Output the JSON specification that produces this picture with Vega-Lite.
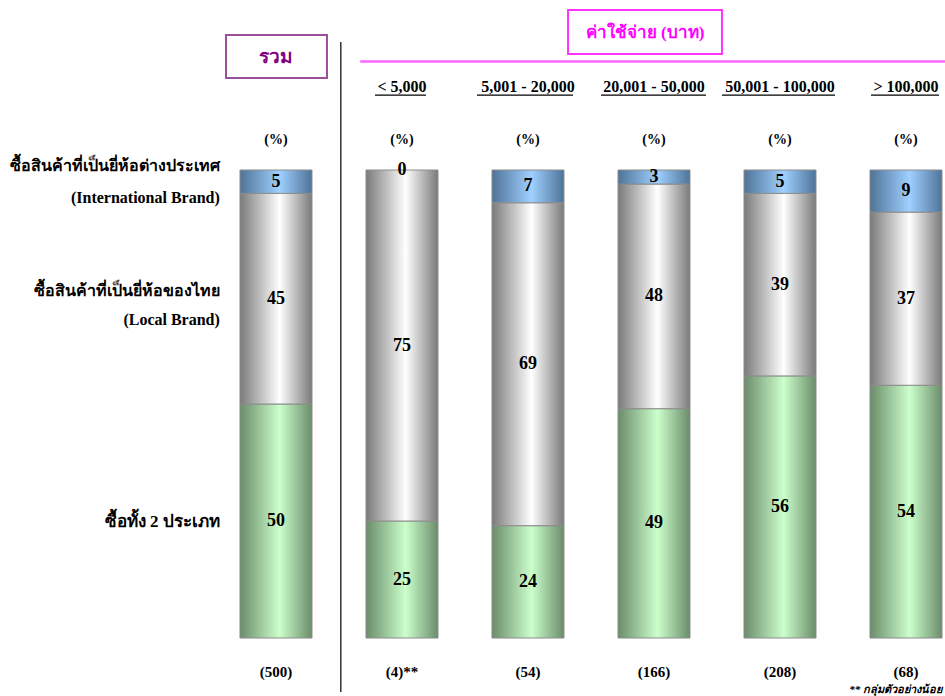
{
  "$schema": "https://vega.github.io/schema/vega-lite/v6.json",
  "width": 717,
  "height": 468,
  "autosize": {"type": "none"},
  "padding": {"left": 228, "top": 170, "right": 0, "bottom": 58},
  "background": "white",
  "config": {"view": {"stroke": null}, "font": "Liberation Serif"},
  "datasets": {
    "bars": [
      {"cat": "รวม", "series": "Both", "rank": 1, "value": 50},
      {"cat": "รวม", "series": "Local", "rank": 2, "value": 45},
      {"cat": "รวม", "series": "Intl", "rank": 3, "value": 5},
      {"cat": "< 5,000", "series": "Both", "rank": 1, "value": 25},
      {"cat": "< 5,000", "series": "Local", "rank": 2, "value": 75},
      {"cat": "< 5,000", "series": "Intl", "rank": 3, "value": 0},
      {"cat": "5,001 - 20,000", "series": "Both", "rank": 1, "value": 24},
      {"cat": "5,001 - 20,000", "series": "Local", "rank": 2, "value": 69},
      {"cat": "5,001 - 20,000", "series": "Intl", "rank": 3, "value": 7},
      {"cat": "20,001 - 50,000", "series": "Both", "rank": 1, "value": 49},
      {"cat": "20,001 - 50,000", "series": "Local", "rank": 2, "value": 48},
      {"cat": "20,001 - 50,000", "series": "Intl", "rank": 3, "value": 3},
      {"cat": "50,001 - 100,000", "series": "Both", "rank": 1, "value": 56},
      {"cat": "50,001 - 100,000", "series": "Local", "rank": 2, "value": 39},
      {"cat": "50,001 - 100,000", "series": "Intl", "rank": 3, "value": 5},
      {"cat": "> 100,000", "series": "Both", "rank": 1, "value": 54},
      {"cat": "> 100,000", "series": "Local", "rank": 2, "value": 37},
      {"cat": "> 100,000", "series": "Intl", "rank": 3, "value": 9}
    ],
    "series": [
      {"series": "Both", "label": "ซื้อทั้ง 2 ประเภท"},
      {"series": "Local", "label": "ซื้อสินค้าที่เป็นยี่ห้อของไทย\n(Local Brand)"},
      {"series": "Intl", "label": "ซื้อสินค้าที่เป็นยี่ห้อต่างประเทศ\n(International Brand)"}
    ],
    "cats": [
      {"cat": "รวม", "n": "(500)"},
      {"cat": "< 5,000", "n": "(4)**"},
      {"cat": "5,001 - 20,000", "n": "(54)"},
      {"cat": "20,001 - 50,000", "n": "(166)"},
      {"cat": "50,001 - 100,000", "n": "(208)"},
      {"cat": "> 100,000", "n": "(68)"}
    ]
  },
  "layer": [
    {
      "data": {"name": "bars"},
      "transform": [
        {"stack": "value", "groupby": ["cat"], "sort": [{"field": "rank", "order": "ascending"}], "as": ["y0", "y1"]}
      ],
      "layer": [
        {
          "transform": [{"filter": "datum.series === 'Both'"}],
          "mark": {"type": "bar", "stroke": "#8c8c8c", "strokeWidth": 1,
            "fill": {"gradient": "linear", "x1": 0, "x2": 1, "y1": 0, "y2": 0,
              "stops": [{"offset": 0, "color": "#6a8c6a"}, {"offset": 0.55, "color": "#ccffcc"}, {"offset": 1, "color": "#6a8c6a"}]}},
          "encoding": {
            "x": {"field": "cat", "type": "nominal", "axis": null, "scale": {"domain": ["รวม", "< 5,000", "5,001 - 20,000", "20,001 - 50,000", "50,001 - 100,000", "> 100,000"], "paddingInner": 0.4286, "paddingOuter": 0.0595, "align": 0.8}},
            "y": {"field": "y0", "type": "quantitative", "axis": null, "scale": {"domain": [0, 100], "nice": false}},
            "y2": {"field": "y1"}
          }
        },
        {
          "transform": [{"filter": "datum.series === 'Local'"}],
          "mark": {"type": "bar", "stroke": "#8c8c8c", "strokeWidth": 1,
            "fill": {"gradient": "linear", "x1": 0, "x2": 1, "y1": 0, "y2": 0,
              "stops": [{"offset": 0, "color": "#7a7a7a"}, {"offset": 0.55, "color": "#ffffff"}, {"offset": 1, "color": "#7a7a7a"}]}},
          "encoding": {
            "x": {"field": "cat", "type": "nominal", "axis": null, "scale": {"domain": ["รวม", "< 5,000", "5,001 - 20,000", "20,001 - 50,000", "50,001 - 100,000", "> 100,000"], "paddingInner": 0.4286, "paddingOuter": 0.0595, "align": 0.8}},
            "y": {"field": "y0", "type": "quantitative", "axis": null, "scale": {"domain": [0, 100], "nice": false}},
            "y2": {"field": "y1"}
          }
        },
        {
          "transform": [{"filter": "datum.series === 'Intl' && datum.value > 0"}],
          "mark": {"type": "bar", "stroke": "#8c8c8c", "strokeWidth": 1,
            "fill": {"gradient": "linear", "x1": 0, "x2": 1, "y1": 0, "y2": 0,
              "stops": [{"offset": 0, "color": "#4f7398"}, {"offset": 0.55, "color": "#9fd0ff"}, {"offset": 1, "color": "#4f7398"}]}},
          "encoding": {
            "x": {"field": "cat", "type": "nominal", "axis": null, "scale": {"domain": ["รวม", "< 5,000", "5,001 - 20,000", "20,001 - 50,000", "50,001 - 100,000", "> 100,000"], "paddingInner": 0.4286, "paddingOuter": 0.0595, "align": 0.8}},
            "y": {"field": "y0", "type": "quantitative", "axis": null, "scale": {"domain": [0, 100], "nice": false}},
            "y2": {"field": "y1"}
          }
        },
        {
          "transform": [
            {"fold": ["y0", "y1"], "as": ["edge", "pos"]},
            {"aggregate": [{"op": "mean", "field": "pos", "as": "mid"}], "groupby": ["cat", "series", "value"]}
          ],
          "mark": {"type": "text", "fontSize": 18, "fontWeight": "bold", "color": "black", "baseline": "middle", "align": "center"},
          "encoding": {
            "x": {"field": "cat", "type": "nominal", "axis": null, "scale": {"domain": ["รวม", "< 5,000", "5,001 - 20,000", "20,001 - 50,000", "50,001 - 100,000", "> 100,000"], "paddingInner": 0.4286, "paddingOuter": 0.0595, "align": 0.8}},
            "y": {"field": "mid", "type": "quantitative", "axis": null, "scale": {"domain": [0, 100], "nice": false}},
            "text": {"field": "value", "type": "quantitative", "format": "d"}
          }
        },
        {
          "transform": [
            {"filter": "datum.cat === 'รวม'"},
            {"fold": ["y0", "y1"], "as": ["edge", "pos"]},
            {"aggregate": [{"op": "mean", "field": "pos", "as": "mid"}], "groupby": ["cat", "series"]},
            {"lookup": "series", "from": {"data": {"name": "series"}, "key": "series", "fields": ["label"]}}
          ],
          "layer": [
            {
              "transform": [{"filter": "datum.series === 'Intl'"}],
              "mark": {"type": "text", "fontSize": 16, "fontWeight": "bold", "color": "black", "baseline": "middle", "align": "right", "lineBreak": "\n", "lineHeight": 32, "dy": -16},
              "encoding": {
                "x": {"field": "cat", "type": "nominal", "axis": null, "bandPosition": -0.28, "scale": {"domain": ["รวม", "< 5,000", "5,001 - 20,000", "20,001 - 50,000", "50,001 - 100,000", "> 100,000"], "paddingInner": 0.4286, "paddingOuter": 0.0595, "align": 0.8}},
                "y": {"field": "mid", "type": "quantitative", "axis": null, "scale": {"domain": [0, 100], "nice": false}},
                "text": {"field": "label", "type": "nominal"}
              }
            },
            {
              "transform": [{"filter": "datum.series === 'Local'"}],
              "mark": {"type": "text", "fontSize": 16, "fontWeight": "bold", "color": "black", "baseline": "middle", "align": "right", "lineBreak": "\n", "lineHeight": 29, "dy": -8},
              "encoding": {
                "x": {"field": "cat", "type": "nominal", "axis": null, "bandPosition": -0.28, "scale": {"domain": ["รวม", "< 5,000", "5,001 - 20,000", "20,001 - 50,000", "50,001 - 100,000", "> 100,000"], "paddingInner": 0.4286, "paddingOuter": 0.0595, "align": 0.8}},
                "y": {"field": "mid", "type": "quantitative", "axis": null, "scale": {"domain": [0, 100], "nice": false}},
                "text": {"field": "label", "type": "nominal"}
              }
            },
            {
              "transform": [{"filter": "datum.series === 'Both'"}],
              "mark": {"type": "text", "fontSize": 17, "fontWeight": "bold", "color": "black", "baseline": "middle", "align": "right", "dy": 1},
              "encoding": {
                "x": {"field": "cat", "type": "nominal", "axis": null, "bandPosition": -0.28, "scale": {"domain": ["รวม", "< 5,000", "5,001 - 20,000", "20,001 - 50,000", "50,001 - 100,000", "> 100,000"], "paddingInner": 0.4286, "paddingOuter": 0.0595, "align": 0.8}},
                "y": {"field": "mid", "type": "quantitative", "axis": null, "scale": {"domain": [0, 100], "nice": false}},
                "text": {"field": "label", "type": "nominal"}
              }
            }
          ]
        }
      ]
    },
    {
      "data": {"name": "cats"},
      "layer": [
        {
          "transform": [{"filter": "datum.cat !== 'รวม'"}],
          "mark": {"type": "text", "fontSize": 16, "fontWeight": "bold", "color": "black", "baseline": "middle", "align": "center"},
          "encoding": {
            "x": {"field": "cat", "type": "nominal", "axis": null, "scale": {"domain": ["รวม", "< 5,000", "5,001 - 20,000", "20,001 - 50,000", "50,001 - 100,000", "> 100,000"], "paddingInner": 0.4286, "paddingOuter": 0.0595, "align": 0.8}},
            "y": {"datum": 117.7, "type": "quantitative", "axis": null, "scale": {"domain": [0, 100], "nice": false}},
            "text": {"field": "cat", "type": "nominal"}
          }
        },
        {
          "mark": {"type": "text", "fontSize": 14, "fontWeight": "bold", "color": "black", "baseline": "middle", "align": "center", "text": "(%)"},
          "encoding": {
            "x": {"field": "cat", "type": "nominal", "axis": null, "scale": {"domain": ["รวม", "< 5,000", "5,001 - 20,000", "20,001 - 50,000", "50,001 - 100,000", "> 100,000"], "paddingInner": 0.4286, "paddingOuter": 0.0595, "align": 0.8}},
            "y": {"datum": 106.4, "type": "quantitative", "axis": null, "scale": {"domain": [0, 100], "nice": false}}
          }
        },
        {
          "mark": {"type": "text", "fontSize": 15, "fontWeight": "bold", "color": "black", "baseline": "middle", "align": "center"},
          "encoding": {
            "x": {"field": "cat", "type": "nominal", "axis": null, "scale": {"domain": ["รวม", "< 5,000", "5,001 - 20,000", "20,001 - 50,000", "50,001 - 100,000", "> 100,000"], "paddingInner": 0.4286, "paddingOuter": 0.0595, "align": 0.8}},
            "y": {"datum": -7.3, "type": "quantitative", "axis": null, "scale": {"domain": [0, 100], "nice": false}},
            "text": {"field": "n", "type": "nominal"}
          }
        }
      ]
    },
    {
      "data": {"values": [{}]},
      "layer": [
        {
          "mark": {"type": "rule", "color": "#333333", "strokeWidth": 1.5},
          "encoding": {
            "x": {"datum": "< 5,000", "bandPosition": -0.35, "type": "nominal", "axis": null, "scale": {"domain": ["รวม", "< 5,000", "5,001 - 20,000", "20,001 - 50,000", "50,001 - 100,000", "> 100,000"], "paddingInner": 0.4286, "paddingOuter": 0.0595, "align": 0.8}},
            "y": {"datum": 127.35, "type": "quantitative", "axis": null, "scale": {"domain": [0, 100], "nice": false}},
            "y2": {"datum": -11.54}
          }
        },
        {
          "mark": {"type": "rule", "color": "#ff66ff", "strokeWidth": 2.5},
          "encoding": {
            "x": {"datum": "< 5,000", "bandPosition": -0.08, "type": "nominal", "axis": null, "scale": {"domain": ["รวม", "< 5,000", "5,001 - 20,000", "20,001 - 50,000", "50,001 - 100,000", "> 100,000"], "paddingInner": 0.4286, "paddingOuter": 0.0595, "align": 0.8}},
            "x2": {"datum": "> 100,000", "bandPosition": 1.05},
            "y": {"datum": 123.2, "type": "quantitative", "axis": null, "scale": {"domain": [0, 100], "nice": false}}
          }
        },
        {
          "mark": {"type": "rule", "color": "black", "strokeWidth": 1.2},
          "encoding": {
            "x": {"datum": "< 5,000", "bandPosition": 0.125, "type": "nominal", "axis": null, "scale": {"domain": ["รวม", "< 5,000", "5,001 - 20,000", "20,001 - 50,000", "50,001 - 100,000", "> 100,000"], "paddingInner": 0.4286, "paddingOuter": 0.0595, "align": 0.8}},
            "x2": {"datum": "< 5,000", "bandPosition": 0.833},
            "y": {"datum": 116.0, "type": "quantitative", "axis": null, "scale": {"domain": [0, 100], "nice": false}}
          }
        },
        {
          "mark": {"type": "rule", "color": "black", "strokeWidth": 1.2},
          "encoding": {
            "x": {"datum": "5,001 - 20,000", "bandPosition": -0.208, "type": "nominal", "axis": null, "scale": {"domain": ["รวม", "< 5,000", "5,001 - 20,000", "20,001 - 50,000", "50,001 - 100,000", "> 100,000"], "paddingInner": 0.4286, "paddingOuter": 0.0595, "align": 0.8}},
            "x2": {"datum": "5,001 - 20,000", "bandPosition": 1.125},
            "y": {"datum": 116.0, "type": "quantitative", "axis": null, "scale": {"domain": [0, 100], "nice": false}}
          }
        },
        {
          "mark": {"type": "rule", "color": "black", "strokeWidth": 1.2},
          "encoding": {
            "x": {"datum": "20,001 - 50,000", "bandPosition": -0.236, "type": "nominal", "axis": null, "scale": {"domain": ["รวม", "< 5,000", "5,001 - 20,000", "20,001 - 50,000", "50,001 - 100,000", "> 100,000"], "paddingInner": 0.4286, "paddingOuter": 0.0595, "align": 0.8}},
            "x2": {"datum": "20,001 - 50,000", "bandPosition": 1.222},
            "y": {"datum": 116.0, "type": "quantitative", "axis": null, "scale": {"domain": [0, 100], "nice": false}}
          }
        },
        {
          "mark": {"type": "rule", "color": "black", "strokeWidth": 1.2},
          "encoding": {
            "x": {"datum": "50,001 - 100,000", "bandPosition": -0.306, "type": "nominal", "axis": null, "scale": {"domain": ["รวม", "< 5,000", "5,001 - 20,000", "20,001 - 50,000", "50,001 - 100,000", "> 100,000"], "paddingInner": 0.4286, "paddingOuter": 0.0595, "align": 0.8}},
            "x2": {"datum": "50,001 - 100,000", "bandPosition": 1.264},
            "y": {"datum": 116.0, "type": "quantitative", "axis": null, "scale": {"domain": [0, 100], "nice": false}}
          }
        },
        {
          "mark": {"type": "rule", "color": "black", "strokeWidth": 1.2},
          "encoding": {
            "x": {"datum": "> 100,000", "bandPosition": 0.014, "type": "nominal", "axis": null, "scale": {"domain": ["รวม", "< 5,000", "5,001 - 20,000", "20,001 - 50,000", "50,001 - 100,000", "> 100,000"], "paddingInner": 0.4286, "paddingOuter": 0.0595, "align": 0.8}},
            "x2": {"datum": "> 100,000", "bandPosition": 0.958},
            "y": {"datum": 116.0, "type": "quantitative", "axis": null, "scale": {"domain": [0, 100], "nice": false}}
          }
        },
        {
          "mark": {"type": "rect", "fill": "white", "stroke": "#9b4f9b", "strokeWidth": 2},
          "encoding": {
            "x": {"datum": "รวม", "bandPosition": -0.194, "type": "nominal", "axis": null, "scale": {"domain": ["รวม", "< 5,000", "5,001 - 20,000", "20,001 - 50,000", "50,001 - 100,000", "> 100,000"], "paddingInner": 0.4286, "paddingOuter": 0.0595, "align": 0.8}},
            "x2": {"datum": "รวม", "bandPosition": 1.208},
            "y": {"datum": 128.85, "type": "quantitative", "axis": null, "scale": {"domain": [0, 100], "nice": false}},
            "y2": {"datum": 119.66}
          }
        },
        {
          "mark": {"type": "rect", "fill": "white", "stroke": "#ff33ff", "strokeWidth": 2},
          "encoding": {
            "x": {"datum": "20,001 - 50,000", "bandPosition": -0.694, "type": "nominal", "axis": null, "scale": {"domain": ["รวม", "< 5,000", "5,001 - 20,000", "20,001 - 50,000", "50,001 - 100,000", "> 100,000"], "paddingInner": 0.4286, "paddingOuter": 0.0595, "align": 0.8}},
            "x2": {"datum": "20,001 - 50,000", "bandPosition": 1.444},
            "y": {"datum": 134.2, "type": "quantitative", "axis": null, "scale": {"domain": [0, 100], "nice": false}},
            "y2": {"datum": 124.8}
          }
        },
        {
          "mark": {"type": "text", "fontSize": 19, "fontWeight": "bold", "color": "#800080", "baseline": "middle", "align": "center", "text": "รวม"},
          "encoding": {
            "x": {"datum": "รวม", "bandPosition": 0.5, "type": "nominal", "axis": null, "scale": {"domain": ["รวม", "< 5,000", "5,001 - 20,000", "20,001 - 50,000", "50,001 - 100,000", "> 100,000"], "paddingInner": 0.4286, "paddingOuter": 0.0595, "align": 0.8}},
            "y": {"datum": 124.1, "type": "quantitative", "axis": null, "scale": {"domain": [0, 100], "nice": false}}
          }
        },
        {
          "mark": {"type": "text", "fontSize": 17, "fontWeight": "bold", "color": "#ff00ff", "baseline": "middle", "align": "center", "text": "ค่าใช้จ่าย (บาท)"},
          "encoding": {
            "x": {"datum": "20,001 - 50,000", "bandPosition": 0.375, "type": "nominal", "axis": null, "scale": {"domain": ["รวม", "< 5,000", "5,001 - 20,000", "20,001 - 50,000", "50,001 - 100,000", "> 100,000"], "paddingInner": 0.4286, "paddingOuter": 0.0595, "align": 0.8}},
            "y": {"datum": 129.3, "type": "quantitative", "axis": null, "scale": {"domain": [0, 100], "nice": false}}
          }
        },
        {
          "mark": {"type": "text", "fontSize": 11, "fontWeight": "bold", "fontStyle": "italic", "color": "black", "baseline": "middle", "align": "right", "text": "** กลุ่มตัวอย่างน้อย"},
          "encoding": {
            "x": {"datum": "> 100,000", "bandPosition": 1.0, "type": "nominal", "axis": null, "scale": {"domain": ["รวม", "< 5,000", "5,001 - 20,000", "20,001 - 50,000", "50,001 - 100,000", "> 100,000"], "paddingInner": 0.4286, "paddingOuter": 0.0595, "align": 0.8}},
            "y": {"datum": -11.2, "type": "quantitative", "axis": null, "scale": {"domain": [0, 100], "nice": false}}
          }
        }
      ]
    }
  ]
}
